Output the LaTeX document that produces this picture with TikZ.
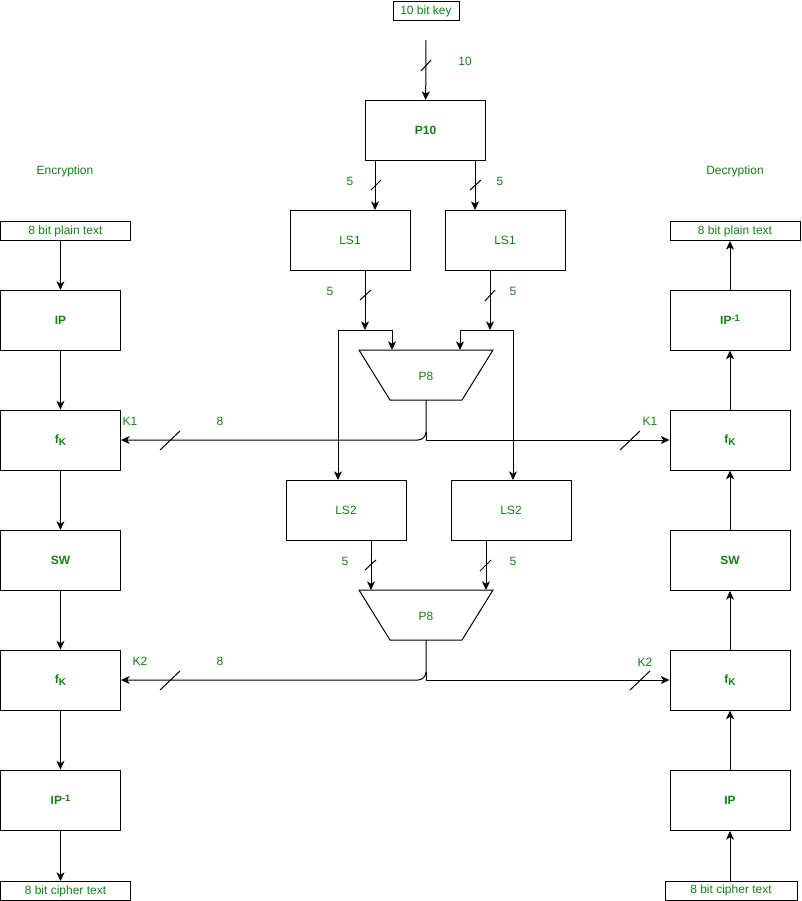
\documentclass[tikz,border=0pt]{standalone}
\usepackage{fontspec}
\setmainfont{Liberation Sans}
\usetikzlibrary{arrows.meta}
\definecolor{txtgreen}{RGB}{20,128,20}
\newcommand{\subK}{\raisebox{-0.3ex}{\fontsize{7.5}{8}\selectfont K}}
\newcommand{\supinv}{\raisebox{0.55ex}{\fontsize{7}{8}\selectfont -1}}
\begin{document}
\begin{tikzpicture}[x=0.75pt,y=-0.75pt, line width=0.75pt,
  every node/.style={font=\fontsize{9}{10}\selectfont, text=txtgreen},
  blk/.style={draw=black, minimum width=90pt, minimum height=45pt, inner sep=0pt},
  bblk/.style={blk, font=\fontsize{9}{10}\selectfont\bfseries},
  tbox/.style={draw=black, minimum width=97.5pt, minimum height=14.25pt, inner sep=0pt},
  arr/.style={-{Stealth[length=6.5pt,width=6pt,inset=1.8pt]}},
  lbl/.style={inner sep=0pt},
]
\useasboundingbox (0,0) rectangle (801,901);

% ---- key schedule ----
\node[tbox, minimum width=49.5pt] (key) at (426,11) {10 bit key};
\coordinate (keyout) at (426,40);
\node[bblk] (p10) at (425.5,130.5) {P10};
\node[blk] (ls1a) at (350,240.5) {LS1};
\node[blk] (ls1b) at (505,240.5) {LS1};
\node[blk] (ls2a) at (346,510.5) {LS2};
\node[blk] (ls2b) at (511,510.5) {LS2};

% trapezoids
\draw (359,350) -- (493,350) -- (462,400) -- (390,400) -- cycle;
\node (p8a) at (426,376) {P8};
\draw (359,590) -- (493,590) -- (462,640) -- (390,640) -- cycle;
\node (p8b) at (426,616) {P8};
\coordinate (p8aL) at (392,350);
\coordinate (p8aR) at (460,350);
\coordinate (p8aB) at (426,400);
\coordinate (p8bL) at (371,590);
\coordinate (p8bR) at (486,590);
\coordinate (p8bB) at (426,640);

% key -> P10
\draw[arr] (keyout) -- (p10);
\draw (421,71) -- (431,60);
\node[lbl] at (465,61.5) {10};

% P10 -> LS1
\coordinate (p10l) at (375,160);
\coordinate (p10r) at (475,160);
\draw[arr] (p10l) -- (p10l |- ls1a.north);
\draw[arr] (p10r) -- (p10r |- ls1b.north);
\draw (371,190) -- (381,180);
\draw (470,190) -- (481,180);
\node[lbl] at (350,181.5) {5};
\node[lbl] at (500,181.5) {5};

% LS1 -> P8 / LS2
\coordinate (j1) at (365,330);
\coordinate (j2) at (490,330);
\coordinate (c1) at (338,330);
\coordinate (c2) at (392,330);
\coordinate (c3) at (460,330);
\coordinate (c4) at (513,330);
\draw[arr] (ls1a.south -| j1) -- (j1);
\draw[arr] (ls1b.south -| j2) -- (j2);
\draw[arr] (c2) -- (p8aL);
\draw[arr] (c3) -- (p8aR);
\draw[arr] (c2) -- (c1) -- (c1 |- ls2a.north);
\draw[arr] (c3) -- (c4) -- (c4 |- ls2b.north);
\draw (360,300) -- (371,290);
\draw (485,301) -- (495,290);
\node[lbl] at (330,291.5) {5};
\node[lbl] at (513,291.5) {5};

% LS2 -> P8
\coordinate (l2a) at (371,540);
\coordinate (l2b) at (486,540);
\draw[arr] (l2a) -- (p8bL);
\draw[arr] (l2b) -- (p8bR);
\draw (365,570) -- (376,560);
\draw (480,571) -- (491,560);
\node[lbl] at (345,561.5) {5};
\node[lbl] at (513,561.5) {5};

% ---- encryption column ----
\node[lbl] at (65,171.5) {Encryption};
\node[tbox] (pt) at (65.5,231) {8 bit plain text};
\node[bblk] (ip) at (60.5,320.5) {IP};
\node[bblk] (fk1) at (60.5,440) {f\subK};
\node[bblk] (sw) at (60.5,560.5) {SW};
\node[bblk] (fk2) at (60.5,680) {f\subK};
\node[bblk] (ipi) at (60.5,800) {IP\supinv};
\node[tbox] (ct) at (65.5,891) {8 bit cipher text};
\draw[arr] (pt.south -| ip) -- (ip);
\draw[arr] (ip) -- (fk1);
\draw[arr] (fk1) -- (sw);
\draw[arr] (sw) -- (fk2);
\draw[arr] (fk2) -- (ipi);
\draw[arr] (ipi) -- (ct.north -| ipi);

% ---- decryption column ----
\node[lbl] at (735,171.5) {Decryption};
\node[tbox] (ptr) at (735,231) {8 bit plain text};
\node[bblk] (ipir) at (730,320) {IP\supinv};
\node[bblk] (fk4) at (730,440) {f\subK};
\node[bblk] (swr) at (730,560.5) {SW};
\node[bblk] (fk3) at (730,680) {f\subK};
\node[bblk] (ipr) at (730,800.5) {IP};
\node[tbox, minimum width=99pt] (ctr) at (731,890.5) {8 bit cipher text};
\draw[arr] (ctr.north -| ipr) -- (ipr);
\draw[arr] (ipr) -- (fk3);
\draw[arr] (fk3) -- (swr);
\draw[arr] (swr) -- (fk4);
\draw[arr] (fk4) -- (ipir);
\draw[arr] (ipir) -- (ptr.south -| ipir);

% ---- K1 distribution ----
\coordinate (k1a) at (426,432);
\coordinate (k1b) at (418,440);
\coordinate (k1j) at (426,440);
\draw[arr] (p8aB) -- (k1a) .. controls (426,436.4) and (422.4,440) .. (k1b) -- (fk1);
\draw[arr] (k1a) -- (k1j) -- (fk4);
\draw (160,450) -- (180,431);
\draw (620,450) -- (640,431);
\node[lbl] at (130,421.5) {K1};
\node[lbl] at (220,421.5) {8};
\node[lbl] at (650,421.5) {K1};

% ---- K2 distribution ----
\coordinate (k2a) at (426,672);
\coordinate (k2b) at (418,680);
\coordinate (k2j) at (426,680);
\draw[arr] (p8bB) -- (k2a) .. controls (426,676.4) and (422.4,680) .. (k2b) -- (fk2);
\draw[arr] (k2a) -- (k2j) -- (fk3);
\draw (160,690) -- (180,671);
\draw (630,690) -- (650,671);
\node[lbl] at (140,661.5) {K2};
\node[lbl] at (220,661.5) {8};
\node[lbl] at (645,662.5) {K2};
\end{tikzpicture}
\end{document}
